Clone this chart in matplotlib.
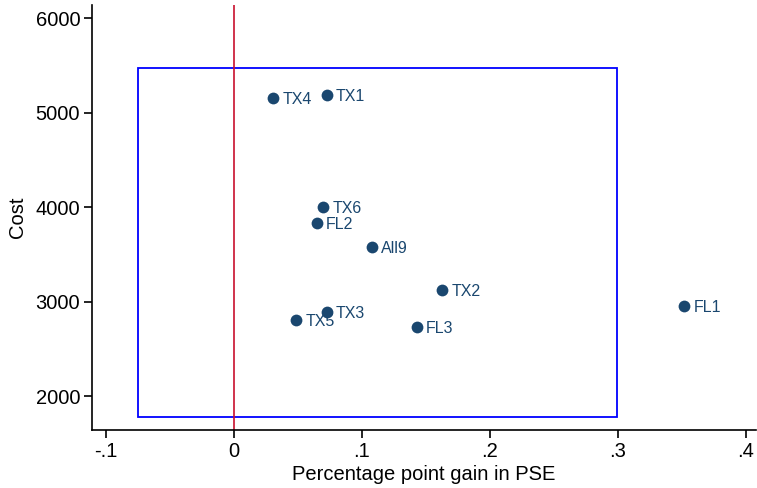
import matplotlib
matplotlib.use("Agg")
import matplotlib.pyplot as plt
from matplotlib.patches import Rectangle

# values
labels = ["TX4", "TX1", "TX6", "FL2", "All9", "TX5", "TX3", "TX2", "FL3", "FL1"]
gain = [0.031, 0.0725, 0.070, 0.065, 0.108, 0.049, 0.0727, 0.163, 0.143, 0.352]
cost = [5152, 5191, 3998, 3836, 3581, 2802, 2890, 3120, 2728, 2956]

box_x = [-0.0745, 0.2995]
box_y = [1781, 5474]

xticks = [-0.1, 0, 0.1, 0.2, 0.3, 0.4]
xticklabels = ["-.1", "0", ".1", ".2", ".3", ".4"]
yticks = [2000, 3000, 4000, 5000, 6000]

plt.rcParams["font.family"] = ["Liberation Sans", "DejaVu Sans"]

fig = plt.figure(figsize=(7.57, 4.88), dpi=100)
ax = fig.add_axes([92 / 757, 58 / 488, 664 / 757, 425 / 488])

navy = "#1a476f"
ax.scatter(gain, cost, s=72, color=navy, zorder=3, linewidths=0)
for lab, x, y in zip(labels, gain, cost):
    ax.annotate(lab, (x, y), xytext=(6.5, -1), textcoords="offset points",
                va="center", ha="left", fontsize=11.5, color=navy)

ax.add_patch(Rectangle((box_x[0], box_y[0]), box_x[1] - box_x[0], box_y[1] - box_y[0],
                       fill=False, edgecolor="#0000ff", linewidth=1.3, zorder=2))
ax.axvline(0, color="#c8102e", linewidth=1.2, zorder=2)

ax.set_xlim(-0.1107, 0.408)
ax.set_ylim(1640, 6141)
ax.set_xticks(xticks)
ax.set_xticklabels(xticklabels)
ax.set_yticks(yticks)

for s in ["top", "right"]:
    ax.spines[s].set_visible(False)
for s in ["left", "bottom"]:
    ax.spines[s].set_linewidth(1.2)
ax.tick_params(axis="both", labelsize=14.5, length=6, width=1.2,
               direction="out", pad=2.5)

ax.set_xlabel("Percentage point gain in PSE", fontsize=14.5, labelpad=3)
ax.set_ylabel("Cost", fontsize=14.5, labelpad=6)

fig.savefig("out.png", dpi=100)
